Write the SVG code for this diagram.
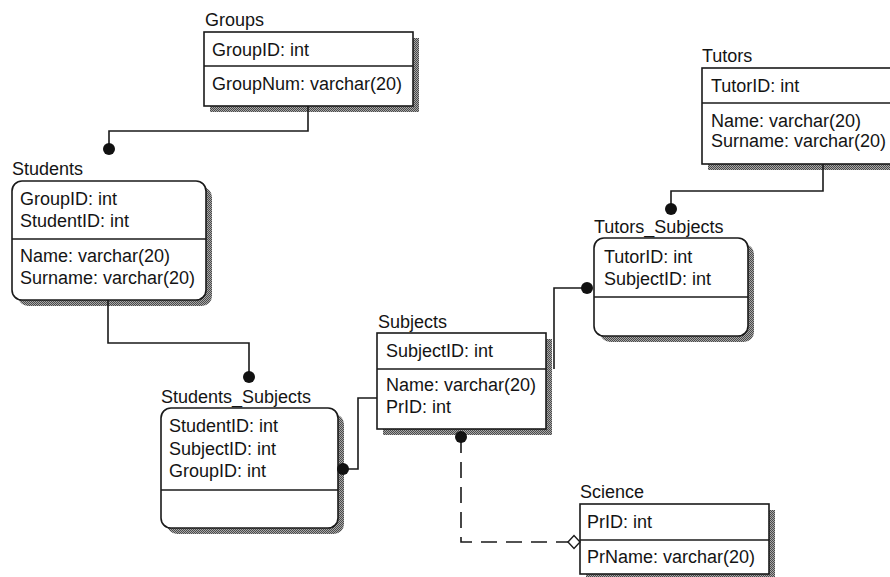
<svg xmlns="http://www.w3.org/2000/svg" width="890" height="577" viewBox="0 0 890 577">
  <defs>
    <!-- dithered drop shadow -->
    <pattern id="dither" width="2" height="2" patternUnits="userSpaceOnUse">
      <rect width="2" height="2" fill="#a8a8a8"/>
      <rect width="1" height="1" fill="#4a4a4a"/>
      <rect x="1" y="1" width="1" height="1" fill="#4a4a4a"/>
    </pattern>
  </defs>
  <style>
    text { font-family: "Liberation Sans", Arial, sans-serif; font-size: 18px; fill: #141414; }
    .shadow { fill: url(#dither); stroke: none; }
    .box { fill: #ffffff; stroke: #1a1a1a; stroke-width: 1.6; }
    .div { stroke: #1a1a1a; stroke-width: 1.6; fill: none; }
    .link { fill: none; stroke: #1a1a1a; stroke-width: 1.6; }
    .dashed { stroke-dasharray: 16 9; }
    .dot { fill: #111111; }
    .hollow { fill: #ffffff; stroke: #1a1a1a; stroke-width: 1.4; }
  </style>

  <rect width="890" height="577" fill="#ffffff"/>

  <!-- Groups -->
  <g id="groups">
    <text x="205" y="26">Groups</text>
    <rect class="shadow" x="210" y="38" width="209" height="74"/>
    <rect class="box" x="204" y="32" width="209" height="74"/>
    <line class="div" x1="204" y1="66" x2="413" y2="66"/>
    <text x="212" y="56">GroupID: int</text>
    <text x="212" y="90">GroupNum: varchar(20)</text>
  </g>

  <!-- Students -->
  <g id="students">
    <text x="12" y="175">Students</text>
    <rect class="shadow" x="18" y="187" width="194" height="119" rx="10"/>
    <rect class="box" x="12" y="181" width="194" height="119" rx="10"/>
    <line class="div" x1="12" y1="239" x2="206" y2="239"/>
    <text x="20" y="205">GroupID: int</text>
    <text x="20" y="227">StudentID: int</text>
    <text x="20" y="262">Name: varchar(20)</text>
    <text x="20" y="284">Surname: varchar(20)</text>
  </g>

  <!-- Tutors -->
  <g id="tutors">
    <text x="702" y="62">Tutors</text>
    <rect class="shadow" x="708" y="74" width="200" height="96"/>
    <rect class="box" x="702" y="68" width="200" height="96"/>
    <line class="div" x1="702" y1="103" x2="902" y2="103"/>
    <text x="711" y="92">TutorID: int</text>
    <text x="711" y="127">Name: varchar(20)</text>
    <text x="711" y="147">Surname: varchar(20)</text>
  </g>

  <!-- Tutors_Subjects -->
  <g id="tutors-subjects">
    <rect class="shadow" x="600" y="244" width="154" height="98" rx="10"/>
    <rect class="box" x="594" y="238" width="154" height="98" rx="10"/>
    <line class="div" x1="594" y1="297" x2="748" y2="297"/>
    <text x="594" y="233">Tutors_Subjects</text>
    <text x="604" y="263">TutorID: int</text>
    <text x="604" y="285">SubjectID: int</text>
  </g>

  <!-- Subjects -->
  <g id="subjects">
    <text x="378" y="328">Subjects</text>
    <rect class="shadow" x="383" y="339" width="169" height="96"/>
    <rect class="box" x="377" y="333" width="169" height="96"/>
    <line class="div" x1="377" y1="369" x2="546" y2="369"/>
    <text x="386" y="357">SubjectID: int</text>
    <text x="386" y="391">Name: varchar(20)</text>
    <text x="386" y="413">PrID: int</text>
  </g>

  <!-- Students_Subjects -->
  <g id="students-subjects">
    <rect class="shadow" x="167" y="414" width="177" height="120" rx="10"/>
    <rect class="box" x="161" y="408" width="177" height="120" rx="10"/>
    <line class="div" x1="161" y1="490" x2="338" y2="490"/>
    <text x="161" y="403">Students_Subjects</text>
    <text x="169" y="432">StudentID: int</text>
    <text x="169" y="455">SubjectID: int</text>
    <text x="169" y="477">GroupID: int</text>
  </g>

  <!-- Science -->
  <g id="science">
    <text x="580" y="498">Science</text>
    <rect class="shadow" x="586" y="510" width="189" height="70"/>
    <rect class="box" x="580" y="504" width="189" height="70"/>
    <line class="div" x1="580" y1="540" x2="769" y2="540"/>
    <text x="587" y="528">PrID: int</text>
    <text x="587" y="563">PrName: varchar(20)</text>
  </g>

  <!-- Relationships -->
  <g id="connectors">
    <path class="link" d="M308,106 V131 H109 V149"/>
    <circle class="dot" cx="109" cy="149" r="6"/>

    <path class="link" d="M108,300 V343 H249 V377"/>
    <circle class="dot" cx="249" cy="377" r="6"/>

    <path class="link" d="M377,398 H358 V469 H343"/>
    <circle class="dot" cx="343" cy="469" r="6"/>

    <path class="link" d="M823,164 V191 H671 V209"/>
    <circle class="dot" cx="671" cy="209" r="6"/>

    <path class="link" d="M554,369 V288 H587"/>
    <circle class="dot" cx="587" cy="288" r="6"/>

    <path class="link dashed" d="M461,437 V542 H568"/>
    <circle class="dot" cx="461" cy="437" r="6"/>
    <polygon class="hollow" points="568,542 574,535.5 580,542 574,548.5"/>
  </g>
</svg>
